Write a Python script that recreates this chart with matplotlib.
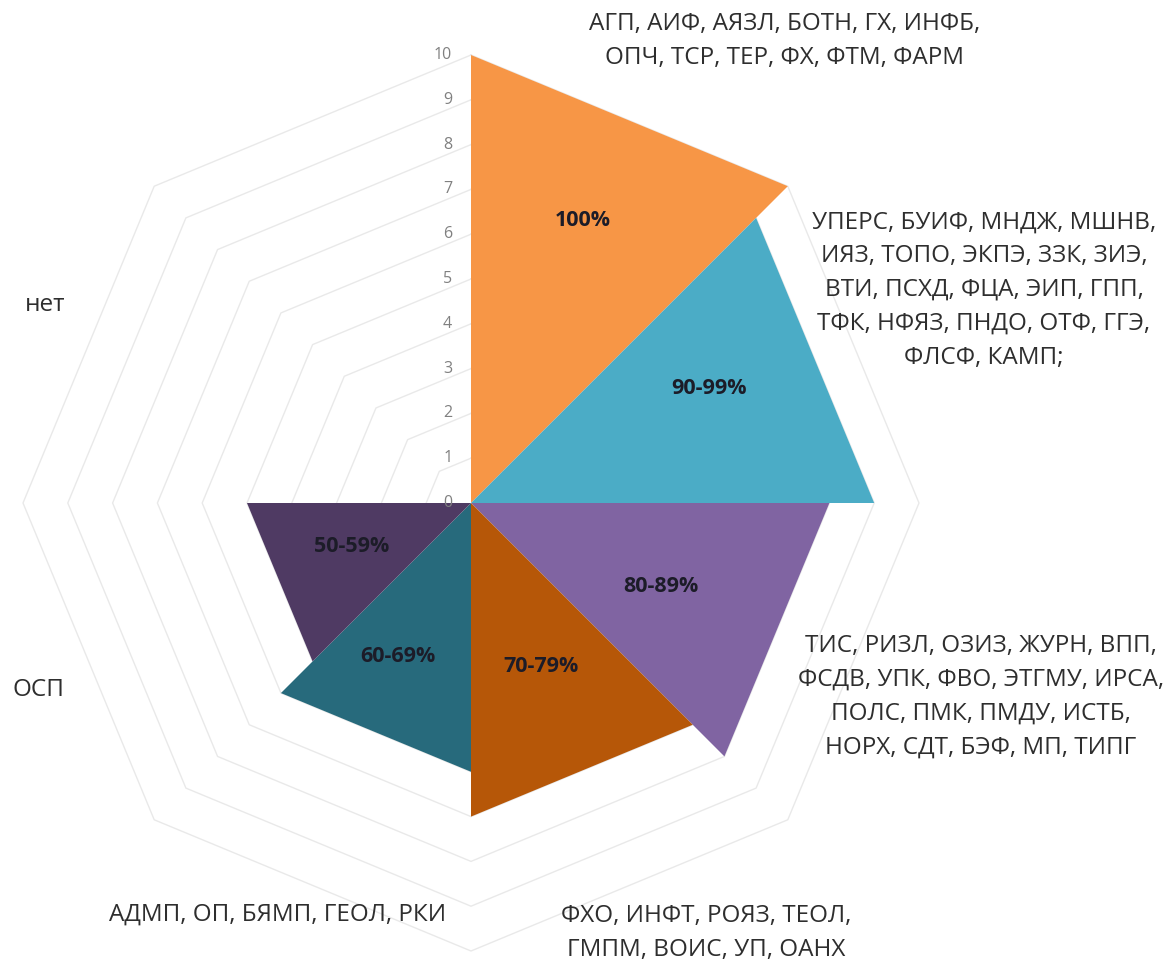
import numpy as np
import matplotlib
matplotlib.use("Agg")
import matplotlib.pyplot as plt

# ---- data ----
axes_count = 8
series_names = ["100%", "90-99%", "80-89%", "70-79%", "60-69%", "50-59%"]
s_100 = [10, 10, 0, 0, 0, 0, 0, 0]
s_90 = [0, 9, 9, 0, 0, 0, 0, 0]
s_80 = [0, 0, 8, 8, 0, 0, 0, 0]
s_70 = [0, 0, 0, 7, 7, 0, 0, 0]
s_60 = [0, 0, 0, 0, 6, 6, 0, 0]
s_50 = [0, 0, 0, 0, 0, 5, 5, 0]
series_values = [s_100, s_90, s_80, s_70, s_60, s_50]
colors = ["#F79646", "#4BACC6", "#8064A2", "#B65708", "#276A7C", "#4F3A63"]
ticks = list(range(0, 11))
category_labels = [
    "АГП, АИФ, АЯЗЛ, БОТН, ГХ, ИНФБ,\nОПЧ, ТСР, ТЕР, ФХ, ФТМ, ФАРМ",
    "УПЕРС, БУИФ, МНДЖ, МШНВ,\nИЯЗ, ТОПО, ЭКПЭ, ЗЗК, ЗИЭ,\nВТИ, ПСХД, ФЦА, ЭИП, ГПП,\nТФК, НФЯЗ, ПНДО, ОТФ, ГГЭ,\nФЛСФ, КАМП;",
    "ТИС, РИЗЛ, ОЗИЗ, ЖУРН, ВПП,\nФСДВ, УПК, ФВО, ЭТГМУ, ИРСА,\nПОЛС, ПМК, ПМДУ, ИСТБ,\nНОРХ, СДТ, БЭФ, МП, ТИПГ",
    "ФХО, ИНФТ, РОЯЗ, ТЕОЛ,\nГМПМ, ВОИС, УП, ОАНХ",
    "АДМП, ОП, БЯМП, ГЕОЛ, РКИ",
    "ОСП",
    "нет",
]

# ---- layout ----
W, H = 1170, 968
cx, cy = 471, 503
s = 44.8  # px per unit

fig = plt.figure(figsize=(W / 100, H / 100), dpi=100)
ax = fig.add_axes([0, 0, 1, 1])
ax.set_xlim(-cx / s, (W - cx) / s)
ax.set_ylim(-(H - cy) / s, cy / s)
ax.axis("off")

ang = np.deg2rad(90 - 45 * np.arange(axes_count))

# gridlines
for r in ticks[1:]:
    xs = np.append(r * np.cos(ang), r * np.cos(ang[0]))
    ys = np.append(r * np.sin(ang), r * np.sin(ang[0]))
    ax.plot(xs, ys, color="#E9E9E9", lw=1.0, zorder=1)

# series
for vals, col in zip(series_values, colors):
    v = np.array(vals, dtype=float)
    ax.fill(v * np.cos(ang), v * np.sin(ang), color=col, lw=0, zorder=2)

# tick labels
for t in ticks:
    ax.text(-0.42, t, str(t), ha="right", va="center", fontsize=11.5,
            color="#808080", family="Open Sans", zorder=3)

# percentage labels (pixel positions)
pct_pos = [(583, 220), (709, 388), (661, 586), (541, 667), (398, 656), (352, 546)]
for name, (px, py) in zip(series_names, pct_pos):
    fig.text(px / W, 1 - py / H, name, ha="center", va="center", fontsize=15.5,
             fontweight="bold", color="#1C1C28", family="Open Sans")

# category labels (pixel positions)
cat_pos = [(785, 41), (984, 290), (981, 697), (706, 933), (278, 915), (38, 690), (45, 305)]
for lab, (px, py) in zip(category_labels, cat_pos):
    fig.text(px / W, 1 - py / H, lab, ha="center", va="center", fontsize=17.5,
             color="#2E2E2E", family="Open Sans", linespacing=1.55, multialignment="center")

fig.savefig("out.png", dpi=100, facecolor="white")
